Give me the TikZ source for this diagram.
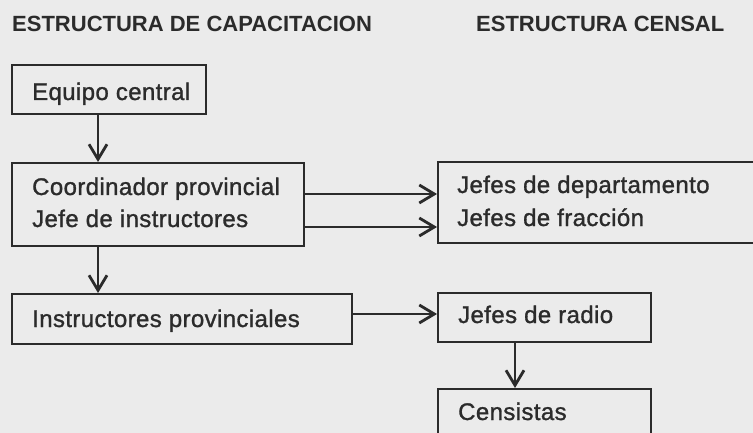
\documentclass[tikz,border=0pt]{standalone}
\usepackage{fontspec}
\setmainfont{Liberation Sans}
\newfontfamily\boxfont{Liberation Sans}[LetterSpace=1.6,FakeBold=1.2]
\usetikzlibrary{arrows.meta}
\definecolor{ink}{HTML}{2B2B2B}
\definecolor{paper}{HTML}{EBEBEB}
\tikzset{
  box/.style={draw=ink, line width=1.8pt, inner sep=0pt, anchor=north west},
  lbl/.style={inner sep=0pt, anchor=base west, text=ink, font=\boxfont\fontsize{24}{30}\selectfont},
  ttl/.style={inner sep=0pt, anchor=base west, text=ink, font=\bfseries\fontsize{22}{26}\selectfont},
  conn/.style={draw=ink, line width=2.8pt, -{Straight Barb[length=15pt,width=18pt]}}
}
\begin{document}
\begin{tikzpicture}[x=1pt,y=-1pt]
\fill[paper] (0,0) rectangle (753,433);
\useasboundingbox (0,0) rectangle (753,433);
\clip (0,0) rectangle (753,433);
% titles
\node[ttl] (t1) at (12,32) {ESTRUCTURA DE CAPACITACION};
\node[ttl] (t2) at (476,32) {ESTRUCTURA CENSAL};
% boxes
\node[box, minimum width=194pt, minimum height=49pt] (eq) at (11,64) {};
\node[box, minimum width=292pt, minimum height=83pt] (co) at (11,162) {};
\node[box, minimum width=340pt, minimum height=50pt] (in) at (11,293) {};
\node[box, minimum width=340pt, minimum height=81pt] (jd) at (437,161) {};
\node[box, minimum width=213pt, minimum height=49pt] (jr) at (437,292) {};
\node[box, minimum width=213pt, minimum height=80pt] (ce) at (437,388) {};
% labels
\node[lbl] (leq) at (32,100) {Equipo central};
\node[lbl] (lco1) at (32,195) {Coordinador provincial};
\node[lbl] (lco2) at (32,227) {Jefe de instructores};
\node[lbl] (lin) at (32,327) {Instructores provinciales};
\node[lbl] (ljd1) at (457,193) {Jefes de departamento};
\node[lbl] (ljd2) at (457,226) {Jefes de fracción};
\node[lbl] (ljr) at (458,323) {Jefes de radio};
\node[lbl] (lce) at (458,420) {Censistas};
% connectors
\draw[conn] (eq.south west) ++(87,0) coordinate (a1) -- (a1 |- co.north);
\draw[conn] (co.south west) ++(87,0) coordinate (a2) -- (a2 |- in.north);
\draw[conn] (co.east |- 0,194) coordinate (a3) -- (a3 -| jd.west);
\draw[conn] (co.east |- 0,227) coordinate (a4) -- (a4 -| jd.west);
\draw[conn] (in.east |- 0,314) coordinate (a5) -- (a5 -| jr.west);
\draw[conn] (jr.south west) ++(78,0) coordinate (a6) -- (a6 |- ce.north);
\end{tikzpicture}
\end{document}
